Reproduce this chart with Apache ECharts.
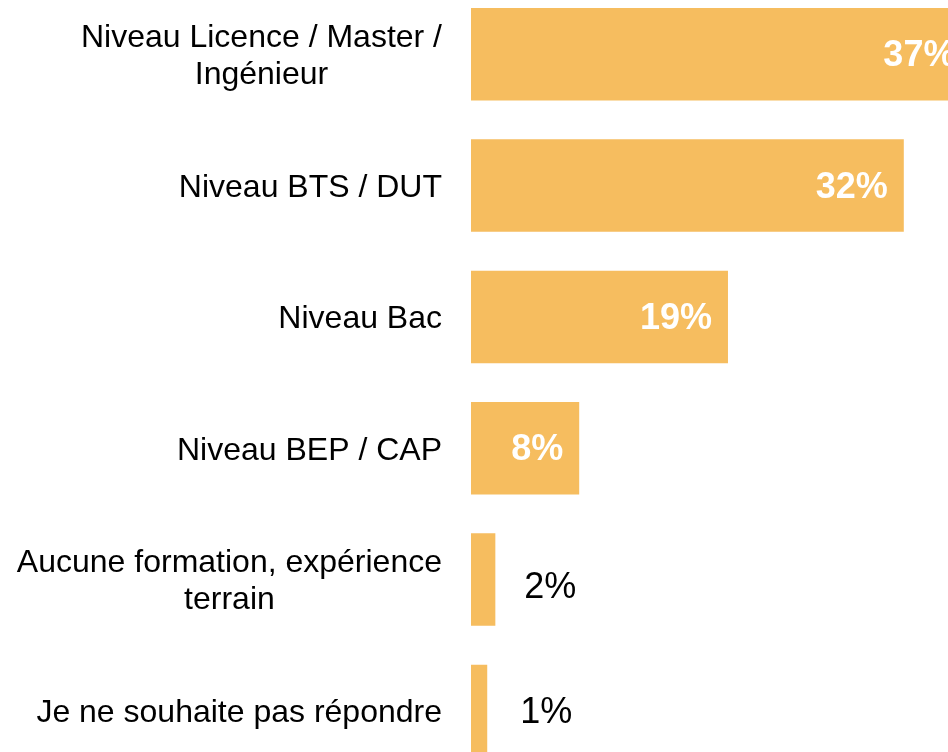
<!DOCTYPE html>
<html><head><meta charset="utf-8">
<script src="https://cdn.jsdelivr.net/npm/echarts@6/dist/echarts.min.js"></script>
<style>html,body{margin:0;padding:0;background:#fff}#c{width:948px;height:752px}</style>
</head><body><div id="c"></div>
<script>
const categories = [
  'Niveau Licence / Master /\nIngénieur',
  'Niveau BTS / DUT',
  'Niveau Bac',
  'Niveau BEP / CAP',
  'Aucune formation, expérience\nterrain',
  'Je ne souhaite pas répondre'
];
// bar lengths (labels show rounded percentages)
const values = [37, 32, 19, 8, 1.8, 1.2];
const labelInside = [true, true, true, true, false, false];

const FONT = '"Liberation Sans", Arial, sans-serif';
const BAR = '#F6BD5F';

const outsideStyle = [
  null, null, null, null,
  { distance: 29, offset: [0, 8] },
  { distance: 33, offset: [0, 2] }
];

const seriesData = values.map((v, i) => ({
  value: v,
  label: labelInside[i]
    ? { position: 'insideRight', distance: 16, offset: [0, 2], color: '#fff', fontWeight: 'bold', fontSize: 36 }
    : Object.assign({ position: 'right', color: '#000', fontWeight: 'normal', fontSize: 36 }, outsideStyle[i])
}));

const chart = echarts.init(document.getElementById('c'), null, { renderer: 'canvas' });
chart.setOption({
  animation: false,
  backgroundColor: '#ffffff',
  grid: { left: 471, top: -11.4, width: 541, height: 788, containLabel: false, outerBoundsMode: 'none' },
  xAxis: { type: 'value', min: 0, max: 40, show: false },
  yAxis: {
    type: 'category',
    data: categories,
    inverse: true,
    axisLine: { show: false },
    axisTick: { show: false },
    splitLine: { show: false },
    axisLabel: {
      margin: 29,
      padding: [5, 0, 0, 0],
      formatter: v => '{c|' + v + '}',
      rich: {
        c: { align: 'center', fontSize: 32, fontFamily: FONT, color: '#000', lineHeight: 37 }
      }
    }
  },
  series: [{
    type: 'bar',
    data: seriesData,
    barWidth: 92.5,
    itemStyle: { color: BAR },
    label: { show: true, formatter: p => Math.round(p.value) + '%', fontFamily: FONT }
  }]
});
</script></body></html>
